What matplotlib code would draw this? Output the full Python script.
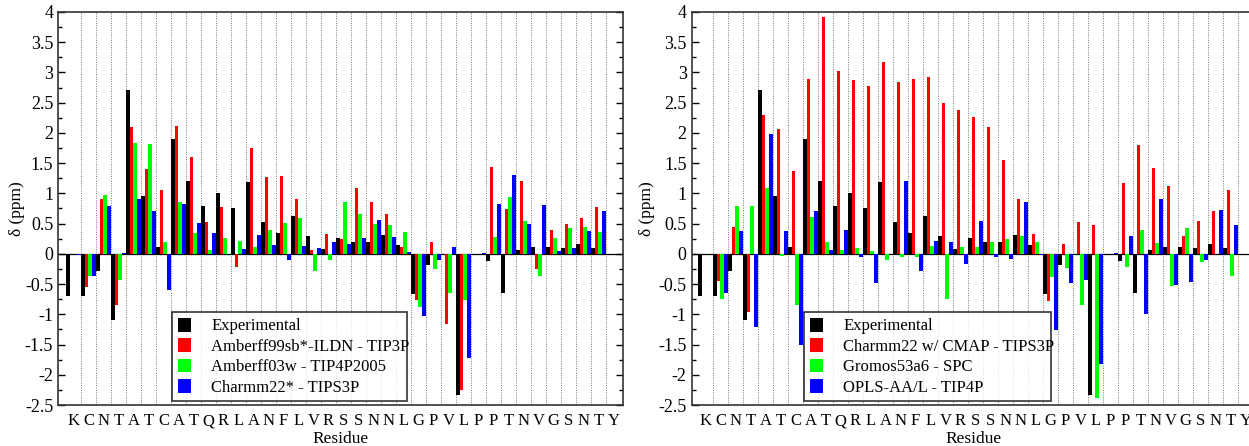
import numpy as np
import matplotlib
matplotlib.use("Agg")
import matplotlib.pyplot as plt
from matplotlib.ticker import MultipleLocator

residues = list("KCNTATCATQRLANFLVRSSNNLGPVLPPTNVGSNTY")

experimental = [-0.70, -0.69, -0.29, -1.10, 2.71, 0.96, 0.11, 1.90, 1.20, 0.79,
                1.00, 0.75, 1.19, 0.52, 0.34, 0.63, 0.30, 0.08, 0.27, 0.19,
                0.20, 0.31, 0.15, -0.67, -0.18, -0.01, -2.33, 0.0, -0.12, -0.65,
                0.07, 0.12, 0.11, 0.10, 0.17, 0.09, 0.0]

# left panel
amber99 = [0.0, -0.55, 0.91, -0.85, 2.10, 1.41, 1.06, 2.12, 1.60, 0.52,
           0.78, -0.21, 1.75, 1.27, 1.29, 0.91, 0.07, 0.32, 0.25, 1.09,
           0.85, 0.66, 0.12, -0.76, 0.19, -1.16, -2.25, 0.0, 1.44, 0.74,
           1.21, -0.25, 0.39, 0.49, 0.60, 0.78, 0.0]
amber03 = [0.0, -0.36, 0.97, -0.44, 1.83, 1.81, 0.19, 0.86, 0.34, 0.07,
           0.27, 0.22, 0.11, 0.40, 0.51, 0.59, -0.29, -0.11, 0.86, 0.66,
           0.50, 0.47, 0.36, -0.88, -0.25, -0.64, -0.76, 0.0, 0.28, 0.94,
           0.55, -0.37, 0.26, 0.42, 0.44, 0.36, 0.0]
charmm22s = [-0.02, -0.36, 0.79, 0.01, 0.91, 0.71, -0.59, 0.83, 0.51, 0.34,
             0.0, 0.08, 0.31, 0.15, -0.11, 0.13, 0.09, 0.19, 0.16, 0.27,
             0.56, 0.28, 0.03, -1.03, -0.11, 0.11, -1.73, 0.01, 0.83, 1.31,
             0.49, 0.80, 0.04, 0.09, 0.37, 0.71, 0.0]

# right panel
charmm22_cmap = [0.0, -0.45, 0.45, -0.96, 2.30, 2.06, 1.37, 2.89, 3.92, 3.03,
                 2.88, 2.77, 3.18, 2.85, 2.89, 2.92, 2.49, 2.38, 2.27, 2.10,
                 1.55, 0.91, 0.33, -0.78, 0.16, 0.53, 0.48, 0.0, 1.17, 1.80,
                 1.42, 1.12, 0.30, 0.55, 0.71, 1.06, 0.0]
gromos = [-0.01, -0.75, 0.79, 0.79, 1.09, -0.04, -0.85, 0.61, 0.19, 0.07,
          0.10, 0.05, -0.11, -0.06, -0.05, 0.13, -0.74, 0.11, 0.12, 0.20,
          0.24, 0.30, 0.20, -0.39, -0.24, -0.85, -2.38, 0.0, -0.21, 0.40,
          0.18, -0.54, 0.42, -0.14, 0.0, -0.36, 0.0]
opls = [-0.01, -0.64, 0.37, -1.21, 1.98, 0.37, -1.51, 0.71, 0.06, 0.39,
        -0.06, -0.49, 0.0, 1.21, -0.29, 0.22, 0.19, -0.16, 0.55, -0.06,
        -0.09, 0.86, -0.02, -1.26, -0.49, -0.44, -1.83, 0.01, 0.29, -0.99,
        0.91, -0.52, -0.46, -0.11, 0.72, 0.47, 0.0]

left_labels = ["Experimental", "Amberff99sb*-ILDN - TIP3P",
               "Amberff03w - TIP4P2005", "Charmm22* - TIPS3P"]
right_labels = ["Experimental", "Charmm22 w/ CMAP - TIPS3P",
                "Gromos53a6 - SPC", "OPLS-AA/L - TIP4P"]
colors = ["#000000", "#ff0000", "#00ff00", "#0000ff"]

plt.rcParams['font.family'] = ['Liberation Serif', 'DejaVu Serif']

W, H = 1249, 446
fig = plt.figure(figsize=(W / 100, H / 100), dpi=100)


def px_axes(x0, x1, y0, y1):
    return fig.add_axes([x0 / W, 1 - y1 / H, (x1 - x0) / W, (y1 - y0) / H])


ax1 = px_axes(58, 623, 12, 405)
ax2 = px_axes(691.5, 1256.5, 12, 405)

x = np.arange(len(residues))
width = 0.25
offsets = [-0.375, -0.125, 0.125, 0.375]

# axes, series, legend labels, xlim start, legend left (px), legend width, ylabel right edge (px)
panels = [
    (ax1, [experimental, amber99, amber03, charmm22s], left_labels, -1.03, 172, 235, 25),
    (ax2, [experimental, charmm22_cmap, gromos, opls], right_labels, -0.93, 804, 247, 655),
]

for ax, series, labels, x0, lx, lw, ylx in panels:
    for k, vals in enumerate(series):
        ax.bar(x + offsets[k], vals, width=width, color=colors[k],
               label=labels[k], zorder=3, linewidth=0)
    for g in x[:-1]:
        ax.axvline(g + 0.5, color='0.45', linestyle=(0, (1, 1.5)),
                   linewidth=0.7, zorder=1)
    ax.axhline(0, color='black', linewidth=0.9, zorder=2)
    ax.set_xlim(x0, x0 + 565 / 15)
    ax.set_ylim(-2.5, 4)
    ax.set_xticks(x)
    ax.set_xticklabels(residues, fontsize=12)
    ax.tick_params(axis='x', length=0, pad=6)
    ax.yaxis.set_minor_locator(MultipleLocator(0.25))
    ticks = np.arange(-2.5, 4.01, 0.5)
    ax.set_yticks(ticks)
    ax.set_yticklabels(["%g" % v for v in ticks], fontsize=13)
    ax.tick_params(axis='y', which='both', direction='in', right=True)
    ax.tick_params(axis='y', which='major', length=5, width=1)
    ax.tick_params(axis='y', which='minor', length=3, width=1)
    for s in ax.spines.values():
        s.set_linewidth(1.2)
        s.set_color('0.2')
    ax.set_xlabel("Residue", fontsize=12.5, labelpad=1.5)
    ax.set_ylabel("δ (ppm)", fontsize=12.5)
    x_left = ax.get_position().x0 * W
    ax.yaxis.set_label_coords(-(x_left - ylx) / 565, 0.5)

    leg = ax.legend(loc='upper left',
                    bbox_to_anchor=((lx - x_left) / 565, (405 - 389) / 393,
                                    lw / 565, (389 - 312) / 393),
                    mode='expand', borderaxespad=0, fontsize=12, frameon=True,
                    fancybox=False, handlelength=0.8, handleheight=0.9,
                    handletextpad=1.2, labelspacing=0.22, borderpad=0.35)
    leg.get_frame().set_edgecolor('black')
    leg.get_frame().set_linewidth(1.2)
    leg.set_zorder(10)

fig.savefig("out.png", dpi=100)
